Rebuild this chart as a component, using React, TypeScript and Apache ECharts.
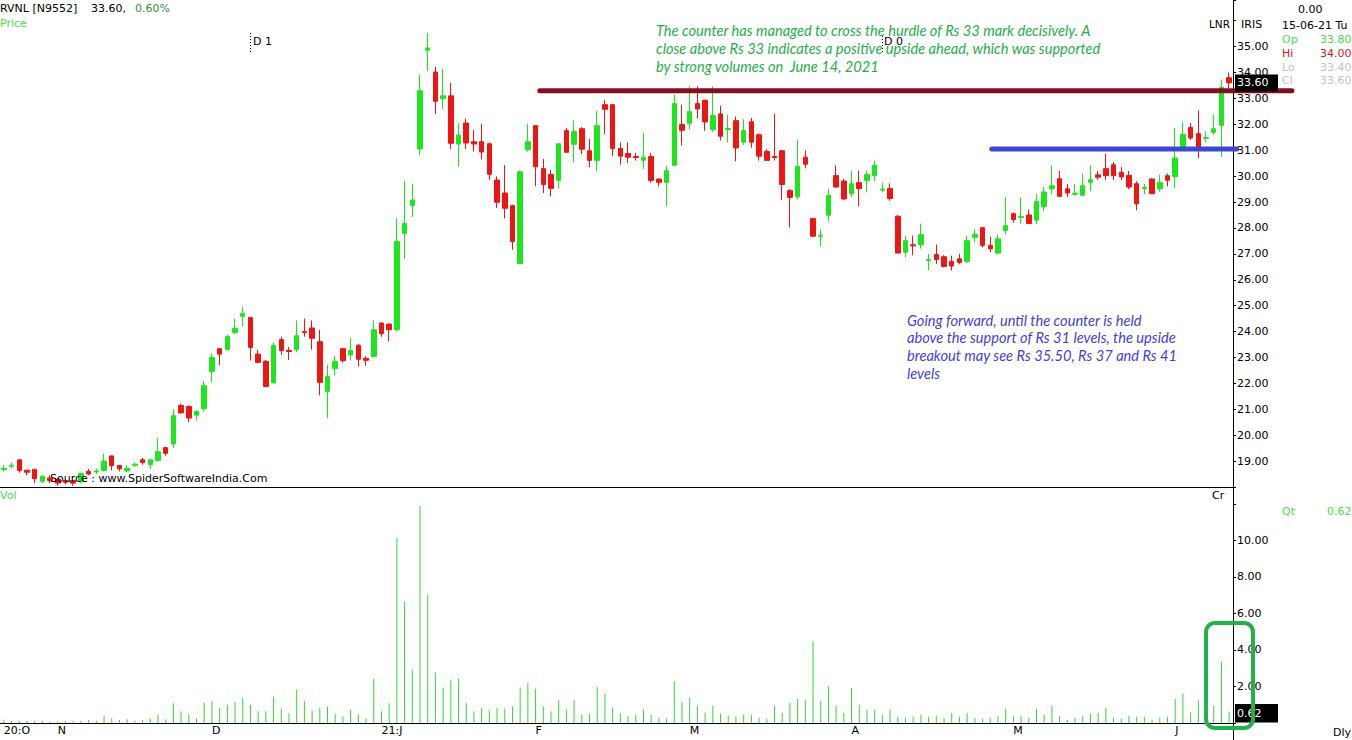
import React, { useEffect, useRef } from "react";
import * as echarts from "echarts";

const opens = [
  18.68, 18.8, 19.05, 18.65, 18.68, 18.22, 18.35, 18.3, 18.25, 18.25,
  18.2, 18.6, 18.58, 18.64, 19.2, 18.83, 18.62, 18.84, 19.05, 18.86,
  19.02, 19.52, 19.66, 21.15, 21.11, 20.77, 21.02, 22.46, 23.34, 23.31,
  23.96, 24.59, 24.54, 23.13, 22.85, 22.02, 23.69, 23.27, 23.3, 24.0,
  24.14, 23.61, 21.69, 22.57, 23.34, 23.1, 23.47, 22.97, 23.04, 24.33,
  24.29, 24.07, 27.79, 28.87, 31.05, 34.86, 34.02, 32.99, 33.1, 31.24,
  32.05, 31.33, 31.33, 31.25, 29.85, 29.35, 28.86, 26.62, 31.02, 31.95,
  30.29, 30.06, 29.84, 31.76, 31.23, 31.83, 30.98, 30.61, 32.76, 32.76,
  31.07, 30.87, 30.76, 30.61, 30.76, 29.89, 29.76, 30.42, 31.99, 32.04,
  32.8, 32.93, 31.8, 32.4, 31.8, 32.14, 31.31, 32.1, 31.6, 30.95,
  30.76, 30.98, 29.44, 29.2, 30.73, 28.36, 27.68, 28.49, 30.02, 29.81,
  29.32, 29.75, 29.83, 30.02, 29.46, 29.52, 28.45, 27.06, 27.35, 27.35,
  26.74, 26.97, 26.89, 26.71, 26.81, 26.71, 27.64, 28.01, 27.33, 27.03,
  27.9, 28.55, 28.4, 28.5, 28.3, 28.83, 29.51, 29.9, 29.51, 29.3,
  29.26, 29.76, 30.05, 30.29, 30.44, 30.15, 30.03, 29.71, 29.52, 29.89,
  29.51, 30.02, 29.99, 31.11, 31.88, 31.64, 31.45, 31.69, 31.96, 33.8,
];

const closes = [
  18.72, 18.84, 18.64, 18.57, 18.32, 18.41, 18.25, 18.15, 18.18, 18.15,
  18.52, 18.5, 18.62, 19.0, 18.82, 18.7, 18.72, 18.88, 18.95, 19.05,
  19.36, 19.3, 20.75, 20.86, 20.66, 20.92, 21.91, 23.0, 23.13, 23.81,
  24.12, 24.7, 23.39, 22.81, 21.88, 23.46, 23.27, 23.23, 23.84, 23.96,
  23.74, 22.04, 22.27, 22.84, 22.88, 23.27, 22.93, 22.89, 24.07, 23.92,
  24.07, 27.48, 28.17, 29.08, 33.3, 34.95, 32.89, 33.1, 31.27, 31.59,
  31.28, 31.24, 30.93, 30.07, 28.99, 28.76, 27.48, 30.17, 31.33, 30.36,
  29.68, 29.53, 31.25, 30.92, 31.72, 31.04, 30.61, 31.95, 32.58, 31.07,
  30.77, 30.73, 30.72, 30.73, 29.83, 29.76, 30.21, 32.8, 31.77, 32.49,
  32.59, 32.09, 32.34, 31.54, 31.84, 31.09, 31.76, 31.31, 30.77, 30.61,
  30.72, 29.68, 29.18, 30.37, 30.46, 27.68, 27.72, 29.25, 29.58, 29.12,
  29.71, 29.52, 30.06, 30.42, 29.5, 29.14, 27.03, 27.51, 27.31, 27.74,
  26.78, 26.78, 26.51, 26.53, 26.67, 27.51, 27.75, 27.33, 27.2, 27.58,
  28.09, 28.32, 28.44, 28.17, 29.02, 29.39, 29.63, 29.22, 29.35, 29.34,
  29.63, 29.86, 29.96, 30.02, 30.02, 29.97, 29.58, 28.93, 29.56, 29.32,
  29.76, 29.84, 30.7, 31.6, 31.47, 31.09, 31.49, 31.83, 33.43, 33.6,
];

const lows = [
  18.6, 18.72, 18.55, 18.45, 18.15, 18.15, 18.15, 18.05, 18.1, 18.05,
  18.15, 18.45, 18.5, 18.6, 18.64, 18.6, 18.58, 18.78, 18.86, 18.7,
  18.98, 19.2, 19.5, 20.84, 20.5, 20.56, 20.9, 22.04, 22.7, 23.28,
  23.9, 24.2, 22.88, 22.78, 21.85, 22.0, 23.1, 22.9, 23.2, 23.8,
  23.3, 21.54, 20.66, 22.3, 22.8, 22.9, 22.65, 22.68, 23.0, 23.8,
  23.62, 24.0, 26.8, 28.42, 30.8, 34.05, 32.39, 32.6, 31.05, 30.36,
  31.05, 30.95, 30.64, 29.86, 28.77, 28.37, 27.16, 26.6, 30.95, 29.61,
  29.35, 29.22, 29.53, 30.92, 30.53, 30.85, 30.34, 30.19, 31.63, 30.77,
  30.44, 30.5, 30.6, 30.27, 29.75, 29.6, 28.84, 30.38, 31.18, 31.8,
  32.23, 31.75, 31.7, 31.38, 31.3, 30.57, 31.2, 31.1, 30.6, 30.6,
  30.6, 29.08, 28.02, 29.1, 30.3, 27.65, 27.29, 28.26, 29.55, 29.07,
  29.2, 28.83, 29.37, 29.8, 29.38, 29.05, 27.03, 26.87, 26.94, 27.2,
  26.36, 26.61, 26.48, 26.36, 26.6, 26.65, 27.45, 27.25, 27.06, 26.97,
  27.75, 28.2, 28.15, 28.15, 28.15, 28.65, 29.3, 29.2, 29.2, 29.25,
  29.25, 29.42, 29.85, 29.85, 29.85, 29.85, 29.5, 28.68, 29.3, 29.32,
  29.4, 29.6, 29.54, 31.0, 31.4, 30.7, 31.3, 31.6, 30.74, 33.4,
];

const highs = [
  18.85, 18.95, 19.06, 18.66, 18.7, 18.45, 18.45, 18.35, 18.3, 18.3,
  18.55, 18.7, 18.72, 19.29, 19.22, 18.85, 18.85, 18.95, 19.12, 19.07,
  19.9, 19.55, 21.0, 21.22, 21.15, 20.95, 22.1, 23.15, 23.36, 23.88,
  24.5, 24.96, 24.56, 23.3, 22.9, 23.58, 23.8, 23.4, 24.43, 24.5,
  24.43, 24.07, 22.72, 23.07, 23.36, 23.76, 23.53, 23.05, 24.43, 24.36,
  24.3, 28.39, 29.83, 29.71, 33.92, 35.53, 34.22, 34.14, 33.6, 32.05,
  32.22, 31.78, 32.02, 31.3, 29.99, 30.43, 28.9, 30.22, 32.03, 31.97,
  30.66, 30.25, 31.27, 31.86, 32.15, 31.9, 31.44, 32.53, 32.95, 32.78,
  31.3, 31.31, 30.9, 31.67, 30.9, 29.9, 30.4, 33.15, 32.76, 33.47,
  33.47, 32.95, 33.47, 32.72, 32.37, 32.3, 32.2, 32.25, 31.65, 31.05,
  32.41, 31.02, 29.5, 31.41, 31.0, 28.4, 27.95, 29.51, 30.42, 29.9,
  30.21, 30.21, 30.21, 30.6, 29.74, 29.72, 28.5, 27.7, 27.7, 28.17,
  27.0, 27.36, 26.95, 26.93, 27.0, 27.7, 27.96, 28.02, 27.66, 27.75,
  29.2, 28.6, 29.17, 28.71, 29.32, 29.58, 30.41, 30.2, 29.7, 29.7,
  30.1, 30.41, 30.2, 30.87, 30.55, 30.35, 30.2, 29.8, 29.7, 29.92,
  30.06, 30.1, 31.86, 32.09, 32.05, 32.53, 31.73, 32.37, 33.73, 34.0,
];

const volumes = [
  0.18, 0.13, 0.13, 0.13, 0.13, 0.13, 0.08, 0.1, 0.1, 0.1,
  0.13, 0.16, 0.12, 0.4, 0.24, 0.16, 0.2, 0.13, 0.16, 0.26,
  0.46, 0.2, 1.08, 0.64, 0.46, 0.26, 1.13, 1.22, 0.84, 1.0,
  1.17, 1.39, 1.0, 0.64, 0.64, 1.44, 0.79, 0.53, 1.83, 1.22,
  0.68, 0.84, 0.9, 0.51, 0.35, 0.73, 0.46, 0.26, 2.43, 0.64,
  1.08, 10.16, 6.65, 2.92, 11.9, 7.03, 2.76, 1.95, 2.37, 2.43,
  1.11, 0.64, 0.84, 0.68, 0.84, 0.79, 0.9, 1.94, 2.21, 1.88,
  0.9, 0.64, 1.28, 0.73, 1.28, 0.46, 0.51, 1.99, 1.62, 0.85,
  0.53, 0.4, 0.45, 0.73, 0.45, 0.29, 0.24, 2.3, 1.16, 1.38,
  0.94, 0.56, 0.94, 0.51, 0.4, 0.34, 0.45, 0.45, 0.29, 0.24,
  0.94, 0.56, 1.11, 1.32, 1.27, 4.48, 1.22, 2.03, 0.94, 0.56,
  1.92, 1.0, 0.73, 0.73, 0.45, 0.73, 0.34, 0.29, 0.34, 0.45,
  0.34, 0.4, 0.29, 0.56, 0.34, 0.56, 0.29, 0.24, 0.29, 0.4,
  0.78, 0.4, 0.4, 0.29, 0.78, 0.45, 0.94, 0.4, 0.18, 0.29,
  0.4, 0.51, 0.56, 0.83, 0.29, 0.24, 0.4, 0.34, 0.34, 0.18,
  0.29, 0.34, 1.32, 1.62, 0.58, 1.23, 0.3, 0.95, 3.36, 0.62,
];

const monthLabels: [number, string][] = [
  [0, "20:O"], [7, "N"], [27, "D"], [49, "21:J"], [69, "F"],
  [89, "M"], [110, "A"], [131, "M"], [152, "J"],
];

const resistanceLevel = 33.3;
const resistanceStart = 69;
const supportLevel = 31.05;
const supportStart = 128;
const lastClose = 33.6;
const lastVolume = 0.62;

const headerTitle = "RVNL [N9552]";
const headerPrice = "33.60,";
const headerChange = "0.60%";
const ohlcInfo: [string, string, string][] = [
  ["Op", "33.80", "#4ed84e"],
  ["Hi", "34.00", "#cc2020"],
  ["Lo", "33.40", "#c4c4c4"],
  ["Cl", "33.60", "#c4c4c4"],
];
const noteGreen = [
  "The counter has managed to cross the hurdle of Rs 33 mark decisively. A",
  "close above Rs 33 indicates a positive upside ahead, which was supported",
  "by strong volumes on  June 14, 2021",
];
const noteBlue = [
  "Going forward, until the counter is held",
  "above the support of Rs 31 levels, the upside",
  "breakout may see Rs 35.50, Rs 37 and Rs 41",
  "levels",
];

const FONT = "DejaVu Sans";
const NOTE_FONT = "italic 14.6px Lato";
const labelMap = new Map(monthLabels);
const categories = opens.map((_, i) => String(i));

export default function App() {
  const ref = useRef<HTMLDivElement>(null);

  useEffect(() => {
    if (!ref.current) return;
    const chart = echarts.init(ref.current, undefined, { renderer: "svg" });
    const candleData = opens.map((o, i) => [o, closes[i], lows[i], highs[i]]);

    chart.setOption({
      animation: false,
      backgroundColor: "#ffffff",
      grid: [
        { left: 0, right: 119, top: 0, height: 487 },
        { left: 0, right: 119, top: 487, height: 236 },
      ],
      xAxis: [
        {
          type: "category",
          gridIndex: 0,
          data: categories,
          boundaryGap: true,
          axisLine: { show: true, onZero: false, lineStyle: { color: "#000", width: 1 } },
          axisTick: { show: false },
          axisLabel: { show: false },
          splitLine: { show: false },
        },
        {
          type: "category",
          gridIndex: 1,
          data: categories,
          boundaryGap: true,
          axisLine: { show: true, onZero: false, lineStyle: { color: "#000", width: 1 } },
          axisTick: { show: false },
          axisLabel: {
            show: true,
            interval: (idx: number) => labelMap.has(idx),
            formatter: (_v: string, idx: number) => labelMap.get(idx) || "",
            align: "left",
            margin: 2,
            color: "#000",
            fontFamily: FONT,
            fontSize: 11,
            hideOverlap: false,
          },
          splitLine: { show: false },
        },
      ],
      yAxis: [
        {
          type: "value",
          gridIndex: 0,
          position: "right",
          min: 18,
          max: 36.8,
          interval: 1,
          axisLine: { show: true, lineStyle: { color: "#000", width: 1 } },
          axisTick: { show: true, length: 3, lineStyle: { color: "#000" } },
          axisLabel: {
            margin: 4,
            color: "#000",
            fontFamily: FONT,
            fontSize: 11,
            formatter: (v: number) => (v >= 19 && v <= 35 ? v.toFixed(2) : ""),
          },
          splitLine: { show: false },
        },
        {
          type: "value",
          gridIndex: 1,
          position: "right",
          min: 0,
          max: 12.93,
          interval: 2,
          axisLine: { show: true, lineStyle: { color: "#000", width: 1 } },
          axisTick: { show: true, length: 3, lineStyle: { color: "#000" } },
          axisLabel: {
            margin: 4,
            color: "#000",
            fontFamily: FONT,
            fontSize: 11,
            formatter: (v: number) => (v >= 2 && v <= 10 ? v.toFixed(2) : ""),
          },
          splitLine: { show: false },
        },
      ],
      series: [
        {
          type: "candlestick",
          xAxisIndex: 0,
          yAxisIndex: 0,
          data: candleData,
          barWidth: 5,
          itemStyle: {
            color: "#1ee61e",
            color0: "#ee1515",
            borderColor: "#1ee61e",
            borderColor0: "#ee1515",
            borderWidth: 1,
          },
        },
        {
          type: "bar",
          xAxisIndex: 1,
          yAxisIndex: 1,
          data: volumes,
          barWidth: 1,
          itemStyle: { color: "#3fd13f" },
        },
      ],
    });

    const px = (i: number) => chart.convertToPixel({ xAxisIndex: 0 }, i) as number;
    const py = (v: number) => chart.convertToPixel({ yAxisIndex: 0 }, v) as number;
    const band = px(1) - px(0);
    const last = opens.length - 1;

    const txt = (x: number, y: number, text: string, fill: string, font = `11px ${FONT}`, align = "left") => ({
      type: "text",
      x,
      y,
      z: 100,
      style: { text, fill, font, align, verticalAlign: "middle" },
    });

    const rY = py(resistanceLevel);
    const sY = py(supportLevel);
    const cY = py(lastClose);

    const elements: any[] = [
      {
        type: "line",
        z: 50,
        shape: { x1: px(resistanceStart) + band * 0.55, y1: rY, x2: px(last) + band * 8.15, y2: rY },
        style: { stroke: "#82101f", lineWidth: 5, lineCap: "round" },
      },
      {
        type: "line",
        z: 50,
        shape: { x1: px(supportStart) + band * 0.2, y1: sY, x2: px(last) + band * 1, y2: sY },
        style: { stroke: "#3f48cc", lineWidth: 5, lineCap: "round" },
      },
      { type: "line", z: 40, shape: { x1: 1233.5, y1: 0, x2: 1233.5, y2: 740 }, style: { stroke: "#000", lineWidth: 1 } },
      { type: "rect", z: 60, shape: { x: 1235, y: cY - 8.5, width: 43, height: 17 }, style: { fill: "#000" } },
      { type: "text", x: 1237, y: cY, z: 61, style: { text: lastClose.toFixed(2), fill: "#fff", font: `11px ${FONT}`, verticalAlign: "middle" } },
      { type: "rect", z: 60, shape: { x: 1235, y: 704, width: 43, height: 18.5 }, style: { fill: "#000" } },
      { type: "text", x: 1237, y: 713.3, z: 61, style: { text: lastVolume.toFixed(2), fill: "#fff", font: `11px ${FONT}`, verticalAlign: "middle" } },
      {
        type: "rect",
        z: 70,
        shape: { x: 1206, y: 623, width: 47, height: 105, r: 9 },
        style: { fill: "none", stroke: "#22b14c", lineWidth: 4 },
      },
      { type: "line", z: 55, shape: { x1: 250.5, y1: 33, x2: 250.5, y2: 52 }, style: { stroke: "#000", lineWidth: 1, lineDash: [1, 2] } },
      txt(253, 41.5, "D 1", "#000"),
      { type: "line", z: 55, shape: { x1: 882.5, y1: 36, x2: 882.5, y2: 53 }, style: { stroke: "#000", lineWidth: 1, lineDash: [1, 2] } },
      txt(884, 41.5, "D 0", "#000"),
      txt(0, 8.5, headerTitle, "#000"),
      txt(91, 8.5, headerPrice, "#000"),
      txt(135, 8.5, headerChange, "#3a8c3a"),
      txt(0, 23, "Price", "#4ed84e"),
      txt(1230, 24, "LNR", "#000", `10.5px ${FONT}`, "right"),
      txt(1241, 24, "IRIS", "#000"),
      txt(1298, 9, "0.00", "#000"),
      txt(1282, 25, "15-06-21 Tu", "#000"),
      txt(50, 478, "Source : www.SpiderSoftwareIndia.Com", "#000"),
      txt(0, 495, "Vol", "#4ed84e"),
      txt(1212, 495.5, "Cr", "#000"),
      txt(1282, 511.5, "Qt", "#4ed84e"),
      txt(1327, 511.5, lastVolume.toFixed(2), "#4ed84e"),
      txt(1333, 732, "Dly", "#000"),
    ];

    ohlcInfo.forEach(([k, v, c], i) => {
      const y = 39.5 + i * 13.8;
      elements.push(txt(1282, y, k, c));
      elements.push(txt(1320, y, v, c));
    });

    noteGreen.forEach((line, i) => {
      elements.push(txt(656, 30.5 + i * 18, line, "#1fae4b", NOTE_FONT));
    });
    noteBlue.forEach((line, i) => {
      elements.push(txt(907, 320 + i * 17.8, line, "#3f3fdc", NOTE_FONT));
    });

    chart.setOption({ graphic: elements });

    return () => {
      chart.dispose();
    };
  }, []);

  return (
    <div
      ref={ref}
      style={{ position: "fixed", left: 0, top: 0, width: 1352, height: 740, background: "#fff" }}
    />
  );
}
